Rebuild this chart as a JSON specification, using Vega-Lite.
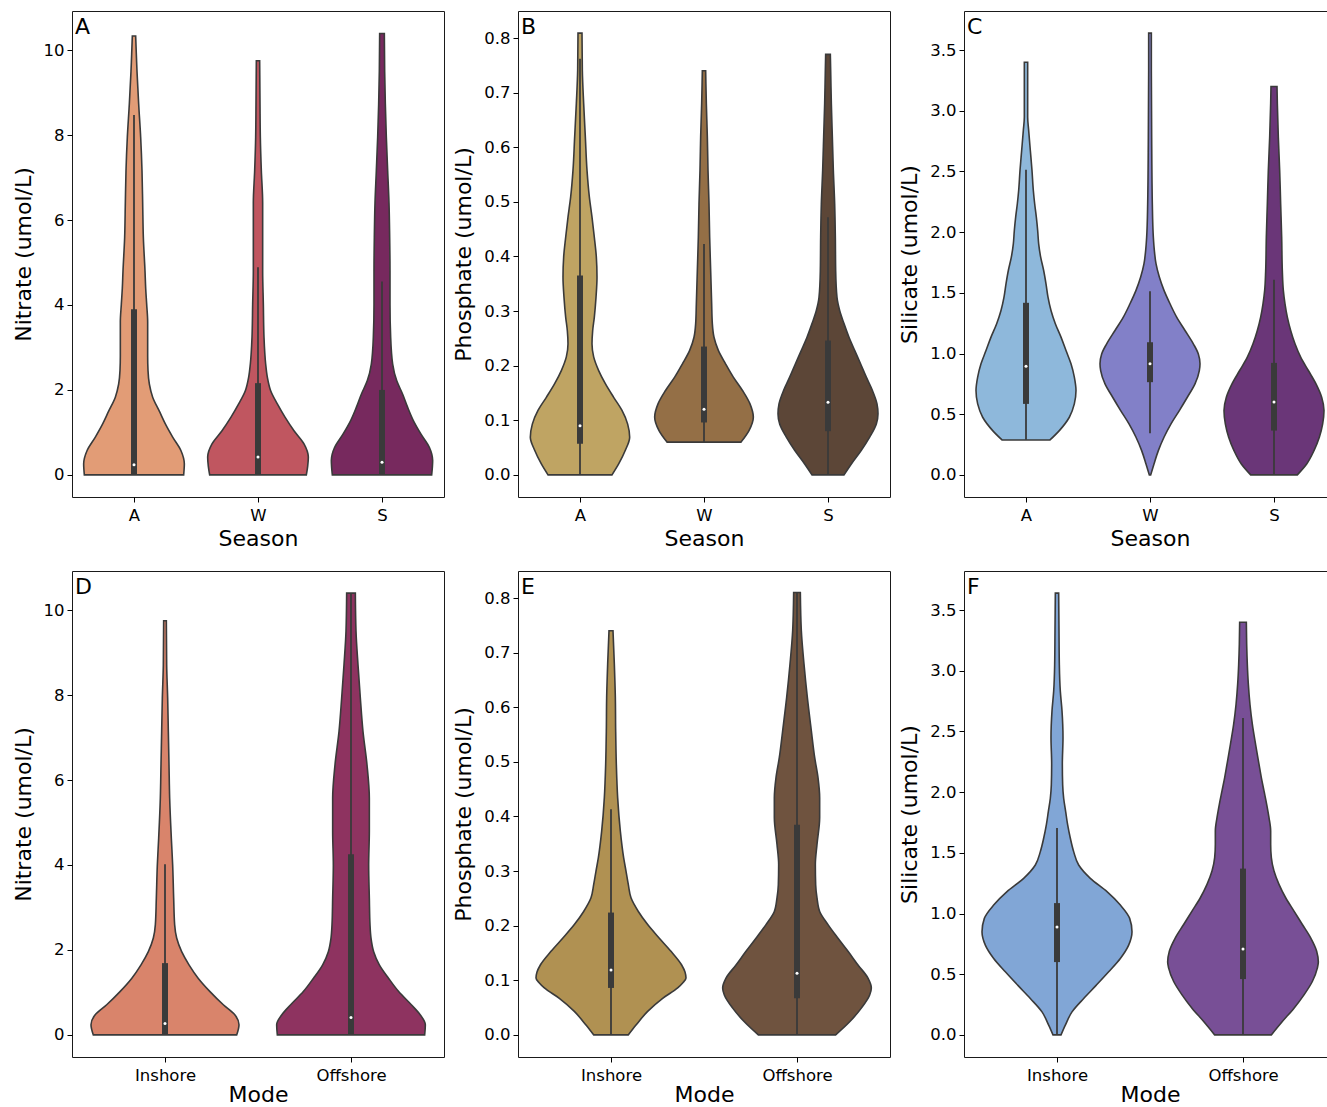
{
"$schema": "https://vega.github.io/schema/vega-lite/v6.json",
"background": "white",
"padding": {"left": 11, "top": 10, "right": -10, "bottom": 0},
"config": {
 "font": "DejaVu Sans",
 "view": {"stroke": "#1a1a1a", "strokeWidth": 1},
 "axis": {"grid": false, "domain": false, "labelFont": "DejaVu Sans", "labelFontSize": 16.5, "labelColor": "#000", "titleFont": "DejaVu Sans", "titleFontSize": 22, "titleFontWeight": "normal", "titleColor": "#000", "tickColor": "#000", "tickSize": 5, "tickWidth": 1, "labelPadding": 3},
 "axisX": {"labelAngle": 0, "labelPadding": 5, "titlePadding": 5},
 "axisY": {"titlePadding": 8},
 "title": {"anchor": "start", "frame": "group", "offset": -28, "dx": 3, "fontSize": 22, "fontWeight": "normal", "font": "DejaVu Sans", "color": "#000"}
},
"datasets": {
 "nitS": [
  {"c":"A","v":0,"w":149},{"c":"A","v":0.26,"w":151},{"c":"A","v":0.57,"w":141},{"c":"A","v":0.89,"w":116},{"c":"A","v":1.2,"w":94},{"c":"A","v":1.5,"w":76},{"c":"A","v":1.83,"w":56},{"c":"A","v":2.14,"w":46},{"c":"A","v":2.46,"w":42},{"c":"A","v":2.8,"w":41},{"c":"A","v":3.24,"w":41},{"c":"A","v":3.6,"w":41},{"c":"A","v":4.02,"w":38},{"c":"A","v":4.4,"w":35},{"c":"A","v":4.8,"w":33},{"c":"A","v":5.6,"w":28},{"c":"A","v":6.4,"w":26},{"c":"A","v":7.16,"w":24},{"c":"A","v":7.95,"w":20},{"c":"A","v":8.73,"w":14},{"c":"A","v":9.5,"w":9},{"c":"A","v":9.9,"w":7},{"c":"A","v":10.33,"w":5},
  {"c":"W","v":0,"w":145},{"c":"W","v":0.2,"w":149},{"c":"W","v":0.42,"w":151},{"c":"W","v":0.73,"w":138},{"c":"W","v":1.04,"w":108},{"c":"W","v":1.36,"w":81},{"c":"W","v":1.67,"w":58},{"c":"W","v":1.98,"w":38},{"c":"W","v":2.3,"w":28},{"c":"W","v":2.61,"w":23},{"c":"W","v":3.24,"w":18},{"c":"W","v":4.02,"w":16},{"c":"W","v":4.8,"w":14},{"c":"W","v":5.6,"w":14},{"c":"W","v":6.4,"w":14},{"c":"W","v":7.16,"w":10},{"c":"W","v":7.95,"w":7},{"c":"W","v":8.73,"w":6},{"c":"W","v":9.75,"w":5},
  {"c":"S","v":0,"w":149},{"c":"S","v":0.34,"w":152},{"c":"S","v":0.65,"w":142},{"c":"S","v":0.96,"w":117},{"c":"S","v":1.28,"w":94},{"c":"S","v":1.59,"w":77},{"c":"S","v":1.9,"w":62},{"c":"S","v":2.22,"w":44},{"c":"S","v":2.61,"w":32},{"c":"S","v":3.24,"w":26},{"c":"S","v":4.02,"w":24},{"c":"S","v":4.8,"w":24},{"c":"S","v":5.6,"w":23},{"c":"S","v":6.4,"w":21},{"c":"S","v":7.16,"w":17},{"c":"S","v":7.95,"w":13},{"c":"S","v":8.73,"w":10},{"c":"S","v":9.5,"w":8},{"c":"S","v":10.39,"w":7}
 ],
 "phoS": [
  {"c":"A","v":0,"w":96},{"c":"A","v":0.02,"w":116},{"c":"A","v":0.045,"w":136},{"c":"A","v":0.069,"w":149},{"c":"A","v":0.093,"w":143},{"c":"A","v":0.118,"w":126},{"c":"A","v":0.142,"w":101},{"c":"A","v":0.167,"w":76},{"c":"A","v":0.191,"w":56},{"c":"A","v":0.216,"w":41},{"c":"A","v":0.24,"w":36},{"c":"A","v":0.264,"w":38},{"c":"A","v":0.289,"w":43},{"c":"A","v":0.325,"w":48},{"c":"A","v":0.362,"w":51},{"c":"A","v":0.399,"w":49},{"c":"A","v":0.435,"w":43},{"c":"A","v":0.472,"w":36},{"c":"A","v":0.509,"w":28},{"c":"A","v":0.558,"w":21},{"c":"A","v":0.619,"w":16},{"c":"A","v":0.68,"w":11},{"c":"A","v":0.741,"w":7},{"c":"A","v":0.809,"w":6},
  {"c":"W","v":0.06,"w":111},{"c":"W","v":0.081,"w":135},{"c":"W","v":0.106,"w":148},{"c":"W","v":0.13,"w":138},{"c":"W","v":0.155,"w":115},{"c":"W","v":0.179,"w":88},{"c":"W","v":0.203,"w":65},{"c":"W","v":0.228,"w":43},{"c":"W","v":0.252,"w":30},{"c":"W","v":0.277,"w":25},{"c":"W","v":0.313,"w":23},{"c":"W","v":0.374,"w":20},{"c":"W","v":0.435,"w":17},{"c":"W","v":0.496,"w":15},{"c":"W","v":0.558,"w":12},{"c":"W","v":0.619,"w":10},{"c":"W","v":0.68,"w":7},{"c":"W","v":0.74,"w":5},
  {"c":"S","v":0,"w":48},{"c":"S","v":0.02,"w":70},{"c":"S","v":0.045,"w":100},{"c":"S","v":0.069,"w":125},{"c":"S","v":0.093,"w":145},{"c":"S","v":0.112,"w":150},{"c":"S","v":0.13,"w":147},{"c":"S","v":0.155,"w":133},{"c":"S","v":0.179,"w":115},{"c":"S","v":0.203,"w":98},{"c":"S","v":0.228,"w":80},{"c":"S","v":0.252,"w":63},{"c":"S","v":0.277,"w":48},{"c":"S","v":0.301,"w":35},{"c":"S","v":0.325,"w":27},{"c":"S","v":0.374,"w":23},{"c":"S","v":0.435,"w":22},{"c":"S","v":0.496,"w":20},{"c":"S","v":0.558,"w":16},{"c":"S","v":0.619,"w":13},{"c":"S","v":0.68,"w":10},{"c":"S","v":0.741,"w":8},{"c":"S","v":0.77,"w":7}
 ],
 "silS": [
  {"c":"A","v":0.288,"w":72},{"c":"A","v":0.365,"w":100},{"c":"A","v":0.475,"w":130},{"c":"A","v":0.585,"w":145},{"c":"A","v":0.695,"w":150},{"c":"A","v":0.805,"w":145},{"c":"A","v":0.915,"w":135},{"c":"A","v":1.025,"w":120},{"c":"A","v":1.135,"w":105},{"c":"A","v":1.245,"w":88},{"c":"A","v":1.354,"w":75},{"c":"A","v":1.464,"w":66},{"c":"A","v":1.574,"w":60},{"c":"A","v":1.684,"w":53},{"c":"A","v":1.794,"w":44},{"c":"A","v":1.904,"w":38},{"c":"A","v":2.014,"w":35},{"c":"A","v":2.124,"w":31},{"c":"A","v":2.234,"w":26},{"c":"A","v":2.343,"w":22},{"c":"A","v":2.508,"w":18},{"c":"A","v":2.673,"w":13},{"c":"A","v":2.838,"w":8},{"c":"A","v":2.948,"w":5},{"c":"A","v":3.058,"w":5},{"c":"A","v":3.4,"w":5},
  {"c":"W","v":0,"w":2},{"c":"W","v":0.09,"w":12},{"c":"W","v":0.2,"w":25},{"c":"W","v":0.31,"w":42},{"c":"W","v":0.42,"w":63},{"c":"W","v":0.53,"w":88},{"c":"W","v":0.64,"w":112},{"c":"W","v":0.75,"w":135},{"c":"W","v":0.86,"w":148},{"c":"W","v":0.915,"w":150},{"c":"W","v":0.997,"w":145},{"c":"W","v":1.08,"w":130},{"c":"W","v":1.19,"w":105},{"c":"W","v":1.3,"w":80},{"c":"W","v":1.41,"w":60},{"c":"W","v":1.52,"w":42},{"c":"W","v":1.63,"w":28},{"c":"W","v":1.74,"w":18},{"c":"W","v":1.85,"w":13},{"c":"W","v":1.96,"w":10},{"c":"W","v":2.23,"w":7},{"c":"W","v":2.78,"w":5},{"c":"W","v":3.33,"w":4},{"c":"W","v":3.64,"w":4},
  {"c":"S","v":0,"w":70},{"c":"S","v":0.09,"w":98},{"c":"S","v":0.2,"w":120},{"c":"S","v":0.31,"w":136},{"c":"S","v":0.42,"w":146},{"c":"S","v":0.53,"w":150},{"c":"S","v":0.64,"w":143},{"c":"S","v":0.75,"w":126},{"c":"S","v":0.86,"w":103},{"c":"S","v":0.97,"w":80},{"c":"S","v":1.08,"w":63},{"c":"S","v":1.19,"w":50},{"c":"S","v":1.3,"w":40},{"c":"S","v":1.41,"w":33},{"c":"S","v":1.52,"w":28},{"c":"S","v":1.68,"w":25},{"c":"S","v":1.96,"w":23},{"c":"S","v":2.23,"w":20},{"c":"S","v":2.51,"w":17},{"c":"S","v":2.78,"w":13},{"c":"S","v":3.06,"w":10},{"c":"S","v":3.2,"w":9}
 ],
 "nitM": [
  {"c":"Inshore","v":0,"w":215},{"c":"Inshore","v":0.24,"w":222},{"c":"Inshore","v":0.47,"w":210},{"c":"Inshore","v":0.71,"w":175},{"c":"Inshore","v":1.02,"w":135},{"c":"Inshore","v":1.33,"w":100},{"c":"Inshore","v":1.65,"w":72},{"c":"Inshore","v":1.96,"w":50},{"c":"Inshore","v":2.28,"w":35},{"c":"Inshore","v":2.59,"w":29},{"c":"Inshore","v":3.22,"w":26},{"c":"Inshore","v":4.0,"w":23},{"c":"Inshore","v":4.63,"w":19},{"c":"Inshore","v":5.57,"w":14},{"c":"Inshore","v":6.36,"w":12},{"c":"Inshore","v":7.14,"w":10},{"c":"Inshore","v":7.93,"w":8},{"c":"Inshore","v":8.71,"w":5},{"c":"Inshore","v":9.75,"w":4},
  {"c":"Offshore","v":0,"w":221},{"c":"Offshore","v":0.24,"w":223},{"c":"Offshore","v":0.47,"w":208},{"c":"Offshore","v":0.71,"w":181},{"c":"Offshore","v":1.02,"w":143},{"c":"Offshore","v":1.33,"w":113},{"c":"Offshore","v":1.65,"w":85},{"c":"Offshore","v":1.96,"w":68},{"c":"Offshore","v":2.28,"w":60},{"c":"Offshore","v":2.59,"w":57},{"c":"Offshore","v":3.22,"w":55},{"c":"Offshore","v":4.0,"w":53},{"c":"Offshore","v":4.79,"w":55},{"c":"Offshore","v":5.57,"w":55},{"c":"Offshore","v":6.36,"w":48},{"c":"Offshore","v":7.14,"w":36},{"c":"Offshore","v":7.93,"w":28},{"c":"Offshore","v":8.71,"w":21},{"c":"Offshore","v":9.5,"w":15},{"c":"Offshore","v":10.4,"w":13}
 ],
 "phoM": [
  {"c":"Inshore","v":0,"w":52},{"c":"Inshore","v":0.018,"w":75},{"c":"Inshore","v":0.043,"w":110},{"c":"Inshore","v":0.067,"w":155},{"c":"Inshore","v":0.086,"w":200},{"c":"Inshore","v":0.095,"w":215},{"c":"Inshore","v":0.104,"w":225},{"c":"Inshore","v":0.115,"w":222},{"c":"Inshore","v":0.128,"w":212},{"c":"Inshore","v":0.153,"w":180},{"c":"Inshore","v":0.177,"w":145},{"c":"Inshore","v":0.202,"w":110},{"c":"Inshore","v":0.226,"w":82},{"c":"Inshore","v":0.251,"w":60},{"c":"Inshore","v":0.275,"w":52},{"c":"Inshore","v":0.3,"w":45},{"c":"Inshore","v":0.324,"w":38},{"c":"Inshore","v":0.373,"w":28},{"c":"Inshore","v":0.434,"w":20},{"c":"Inshore","v":0.495,"w":16},{"c":"Inshore","v":0.557,"w":14},{"c":"Inshore","v":0.618,"w":13},{"c":"Inshore","v":0.679,"w":10},{"c":"Inshore","v":0.74,"w":6},
  {"c":"Offshore","v":0,"w":116},{"c":"Offshore","v":0.024,"w":158},{"c":"Offshore","v":0.049,"w":193},{"c":"Offshore","v":0.073,"w":218},{"c":"Offshore","v":0.086,"w":223},{"c":"Offshore","v":0.104,"w":213},{"c":"Offshore","v":0.128,"w":183},{"c":"Offshore","v":0.153,"w":153},{"c":"Offshore","v":0.177,"w":123},{"c":"Offshore","v":0.202,"w":93},{"c":"Offshore","v":0.226,"w":68},{"c":"Offshore","v":0.251,"w":60},{"c":"Offshore","v":0.275,"w":56},{"c":"Offshore","v":0.312,"w":55},{"c":"Offshore","v":0.349,"w":60},{"c":"Offshore","v":0.398,"w":68},{"c":"Offshore","v":0.434,"w":68},{"c":"Offshore","v":0.471,"w":63},{"c":"Offshore","v":0.508,"w":53},{"c":"Offshore","v":0.557,"w":43},{"c":"Offshore","v":0.618,"w":31},{"c":"Offshore","v":0.679,"w":21},{"c":"Offshore","v":0.74,"w":13},{"c":"Offshore","v":0.81,"w":10}
 ],
 "silM": [
  {"c":"Inshore","v":0,"w":12},{"c":"Inshore","v":0.08,"w":25},{"c":"Inshore","v":0.19,"w":45},{"c":"Inshore","v":0.3,"w":80},{"c":"Inshore","v":0.41,"w":118},{"c":"Inshore","v":0.52,"w":155},{"c":"Inshore","v":0.63,"w":190},{"c":"Inshore","v":0.74,"w":215},{"c":"Inshore","v":0.85,"w":225},{"c":"Inshore","v":0.96,"w":218},{"c":"Inshore","v":1.07,"w":190},{"c":"Inshore","v":1.18,"w":150},{"c":"Inshore","v":1.29,"w":100},{"c":"Inshore","v":1.4,"w":65},{"c":"Inshore","v":1.51,"w":50},{"c":"Inshore","v":1.62,"w":40},{"c":"Inshore","v":1.73,"w":32},{"c":"Inshore","v":1.84,"w":26},{"c":"Inshore","v":1.95,"w":20},{"c":"Inshore","v":2.06,"w":17},{"c":"Inshore","v":2.23,"w":16},{"c":"Inshore","v":2.45,"w":18},{"c":"Inshore","v":2.67,"w":15},{"c":"Inshore","v":2.83,"w":10},{"c":"Inshore","v":3.05,"w":7},{"c":"Inshore","v":3.33,"w":6},{"c":"Inshore","v":3.64,"w":5},
  {"c":"Offshore","v":0,"w":85},{"c":"Offshore","v":0.11,"w":118},{"c":"Offshore","v":0.22,"w":153},{"c":"Offshore","v":0.33,"w":183},{"c":"Offshore","v":0.44,"w":208},{"c":"Offshore","v":0.55,"w":223},{"c":"Offshore","v":0.6,"w":226},{"c":"Offshore","v":0.69,"w":221},{"c":"Offshore","v":0.8,"w":203},{"c":"Offshore","v":0.91,"w":178},{"c":"Offshore","v":1.02,"w":153},{"c":"Offshore","v":1.13,"w":128},{"c":"Offshore","v":1.24,"w":108},{"c":"Offshore","v":1.35,"w":93},{"c":"Offshore","v":1.46,"w":85},{"c":"Offshore","v":1.57,"w":83},{"c":"Offshore","v":1.68,"w":83},{"c":"Offshore","v":1.79,"w":78},{"c":"Offshore","v":1.9,"w":71},{"c":"Offshore","v":2.01,"w":63},{"c":"Offshore","v":2.12,"w":55},{"c":"Offshore","v":2.23,"w":48},{"c":"Offshore","v":2.39,"w":38},{"c":"Offshore","v":2.56,"w":28},{"c":"Offshore","v":2.72,"w":21},{"c":"Offshore","v":2.89,"w":16},{"c":"Offshore","v":3.05,"w":13},{"c":"Offshore","v":3.22,"w":11},{"c":"Offshore","v":3.4,"w":10}
 ],
 "box": [
  {"p":"A","c":"A","k":"wh","v":0},{"p":"A","c":"A","k":"wh","v":8.47},{"p":"A","c":"A","k":"iqr","v":0},{"p":"A","c":"A","k":"iqr","v":3.9},{"p":"A","c":"A","k":"med","v":0.24},
  {"p":"A","c":"W","k":"wh","v":0},{"p":"A","c":"W","k":"wh","v":4.89},{"p":"A","c":"W","k":"iqr","v":0},{"p":"A","c":"W","k":"iqr","v":2.16},{"p":"A","c":"W","k":"med","v":0.42},
  {"p":"A","c":"S","k":"wh","v":0},{"p":"A","c":"S","k":"wh","v":4.55},{"p":"A","c":"S","k":"iqr","v":0},{"p":"A","c":"S","k":"iqr","v":2.0},{"p":"A","c":"S","k":"med","v":0.3},
  {"p":"B","c":"A","k":"wh","v":0},{"p":"B","c":"A","k":"wh","v":0.762},{"p":"B","c":"A","k":"iqr","v":0.057},{"p":"B","c":"A","k":"iqr","v":0.365},{"p":"B","c":"A","k":"med","v":0.09},
  {"p":"B","c":"W","k":"wh","v":0.06},{"p":"B","c":"W","k":"wh","v":0.423},{"p":"B","c":"W","k":"iqr","v":0.096},{"p":"B","c":"W","k":"iqr","v":0.235},{"p":"B","c":"W","k":"med","v":0.12},
  {"p":"B","c":"S","k":"wh","v":0},{"p":"B","c":"S","k":"wh","v":0.472},{"p":"B","c":"S","k":"iqr","v":0.08},{"p":"B","c":"S","k":"iqr","v":0.246},{"p":"B","c":"S","k":"med","v":0.133},
  {"p":"C","c":"A","k":"wh","v":0.29},{"p":"C","c":"A","k":"wh","v":2.514},{"p":"C","c":"A","k":"iqr","v":0.585},{"p":"C","c":"A","k":"iqr","v":1.418},{"p":"C","c":"A","k":"med","v":0.896},
  {"p":"C","c":"W","k":"wh","v":0.343},{"p":"C","c":"W","k":"wh","v":1.514},{"p":"C","c":"W","k":"iqr","v":0.764},{"p":"C","c":"W","k":"iqr","v":1.093},{"p":"C","c":"W","k":"med","v":0.915},
  {"p":"C","c":"S","k":"wh","v":0},{"p":"C","c":"S","k":"wh","v":1.607},{"p":"C","c":"S","k":"iqr","v":0.365},{"p":"C","c":"S","k":"iqr","v":0.923},{"p":"C","c":"S","k":"med","v":0.6},
  {"p":"D","c":"Inshore","k":"wh","v":0},{"p":"D","c":"Inshore","k":"wh","v":4.02},{"p":"D","c":"Inshore","k":"iqr","v":0},{"p":"D","c":"Inshore","k":"iqr","v":1.69},{"p":"D","c":"Inshore","k":"med","v":0.27},
  {"p":"D","c":"Offshore","k":"wh","v":0},{"p":"D","c":"Offshore","k":"wh","v":10.4},{"p":"D","c":"Offshore","k":"iqr","v":0},{"p":"D","c":"Offshore","k":"iqr","v":4.25},{"p":"D","c":"Offshore","k":"med","v":0.41},
  {"p":"E","c":"Inshore","k":"wh","v":0},{"p":"E","c":"Inshore","k":"wh","v":0.413},{"p":"E","c":"Inshore","k":"iqr","v":0.086},{"p":"E","c":"Inshore","k":"iqr","v":0.224},{"p":"E","c":"Inshore","k":"med","v":0.119},
  {"p":"E","c":"Offshore","k":"wh","v":0},{"p":"E","c":"Offshore","k":"wh","v":0.81},{"p":"E","c":"Offshore","k":"iqr","v":0.067},{"p":"E","c":"Offshore","k":"iqr","v":0.385},{"p":"E","c":"Offshore","k":"med","v":0.113},
  {"p":"F","c":"Inshore","k":"wh","v":0},{"p":"F","c":"Inshore","k":"wh","v":1.705},{"p":"F","c":"Inshore","k":"iqr","v":0.6},{"p":"F","c":"Inshore","k":"iqr","v":1.086},{"p":"F","c":"Inshore","k":"med","v":0.888},
  {"p":"F","c":"Offshore","k":"wh","v":0},{"p":"F","c":"Offshore","k":"wh","v":2.61},{"p":"F","c":"Offshore","k":"iqr","v":0.46},{"p":"F","c":"Offshore","k":"iqr","v":1.37},{"p":"F","c":"Offshore","k":"med","v":0.707}
 ]
},
"columns": 3,
"spacing": {"row": 74, "column": 74},
"bounds": "flush",
"concat": [
 {"width": 372, "height": 486, "title": {"text": "A"},
  "encoding": {"y": {"field": "v", "type": "quantitative", "title": "Nitrate (umol/L)", "scale": {"domain": [-0.52, 10.92], "nice": false, "zero": false}, "axis": {"values": [0, 2, 4, 6, 8, 10], "format": "d"}}},
  "layer": [
   {"data": {"name": "nitS"}, "transform": [{"filter": "datum.c === 'A'"}], "mark": {"type": "area", "orient": "horizontal", "interpolate": "monotone", "fill": "#E29C76", "fillOpacity": 1, "stroke": "#3a3a3a", "strokeWidth": 1.6}, "encoding": {"x": {"field": "w", "type": "quantitative", "stack": "center", "scale": {"domain": [-17.5, 540.5], "nice": false, "zero": false}, "axis": null}}},
   {"data": {"name": "nitS"}, "transform": [{"filter": "datum.c === 'W'"}], "mark": {"type": "area", "orient": "horizontal", "interpolate": "monotone", "fill": "#C05660", "fillOpacity": 1, "stroke": "#3a3a3a", "strokeWidth": 1.6}, "encoding": {"x": {"field": "w", "type": "quantitative", "stack": "center", "scale": {"domain": [-203.5, 354.5], "nice": false, "zero": false}, "axis": null}}},
   {"data": {"name": "nitS"}, "transform": [{"filter": "datum.c === 'S'"}], "mark": {"type": "area", "orient": "horizontal", "interpolate": "monotone", "fill": "#77295E", "fillOpacity": 1, "stroke": "#3a3a3a", "strokeWidth": 1.6}, "encoding": {"x": {"field": "w", "type": "quantitative", "stack": "center", "scale": {"domain": [-389, 169], "nice": false, "zero": false}, "axis": null}}},
   {"data": {"name": "box"}, "transform": [{"filter": "datum.p === 'A' && datum.k === 'wh'"}], "mark": {"type": "line", "color": "#3a3a3a", "strokeWidth": 1.8}, "encoding": {"x": {"field": "c", "type": "nominal", "sort": ["A", "W", "S"], "scale": {"type": "point", "padding": 0.5}, "title": "Season"}, "detail": {"field": "c"}}},
   {"data": {"name": "box"}, "transform": [{"filter": "datum.p === 'A' && datum.k === 'iqr'"}], "mark": {"type": "line", "color": "#3a3a3a", "strokeWidth": 6, "strokeCap": "butt"}, "encoding": {"x": {"field": "c", "type": "nominal", "sort": ["A", "W", "S"], "scale": {"type": "point", "padding": 0.5}, "axis": null}, "detail": {"field": "c"}}},
   {"data": {"name": "box"}, "transform": [{"filter": "datum.p === 'A' && datum.k === 'med'"}], "mark": {"type": "point", "filled": true, "color": "white", "opacity": 1, "size": 9}, "encoding": {"x": {"field": "c", "type": "nominal", "sort": ["A", "W", "S"], "scale": {"type": "point", "padding": 0.5}, "axis": null}}}
  ],
  "resolve": {"scale": {"x": "independent"}}
 },
 {"width": 372, "height": 486, "title": {"text": "B"},
  "encoding": {"y": {"field": "v", "type": "quantitative", "title": "Phosphate (umol/L)", "scale": {"domain": [-0.0405, 0.8495], "nice": false, "zero": false}, "axis": {"values": [0, 0.1, 0.2, 0.3, 0.4, 0.5, 0.6, 0.7, 0.8], "format": ".1f"}}},
  "layer": [
   {"data": {"name": "phoS"}, "transform": [{"filter": "datum.c === 'A'"}], "mark": {"type": "area", "orient": "horizontal", "interpolate": "monotone", "fill": "#BFA463", "fillOpacity": 1, "stroke": "#3a3a3a", "strokeWidth": 1.6}, "encoding": {"x": {"field": "w", "type": "quantitative", "stack": "center", "scale": {"domain": [-18.5, 539.5], "nice": false, "zero": false}, "axis": null}}},
   {"data": {"name": "phoS"}, "transform": [{"filter": "datum.c === 'W'"}], "mark": {"type": "area", "orient": "horizontal", "interpolate": "monotone", "fill": "#946F46", "fillOpacity": 1, "stroke": "#3a3a3a", "strokeWidth": 1.6}, "encoding": {"x": {"field": "w", "type": "quantitative", "stack": "center", "scale": {"domain": [-205, 353], "nice": false, "zero": false}, "axis": null}}},
   {"data": {"name": "phoS"}, "transform": [{"filter": "datum.c === 'S'"}], "mark": {"type": "area", "orient": "horizontal", "interpolate": "monotone", "fill": "#5C4637", "fillOpacity": 1, "stroke": "#3a3a3a", "strokeWidth": 1.6}, "encoding": {"x": {"field": "w", "type": "quantitative", "stack": "center", "scale": {"domain": [-390, 168], "nice": false, "zero": false}, "axis": null}}},
   {"data": {"name": "box"}, "transform": [{"filter": "datum.p === 'B' && datum.k === 'wh'"}], "mark": {"type": "line", "color": "#3a3a3a", "strokeWidth": 1.8}, "encoding": {"x": {"field": "c", "type": "nominal", "sort": ["A", "W", "S"], "scale": {"type": "point", "padding": 0.5}, "title": "Season"}, "detail": {"field": "c"}}},
   {"data": {"name": "box"}, "transform": [{"filter": "datum.p === 'B' && datum.k === 'iqr'"}], "mark": {"type": "line", "color": "#3a3a3a", "strokeWidth": 6, "strokeCap": "butt"}, "encoding": {"x": {"field": "c", "type": "nominal", "sort": ["A", "W", "S"], "scale": {"type": "point", "padding": 0.5}, "axis": null}, "detail": {"field": "c"}}},
   {"data": {"name": "box"}, "transform": [{"filter": "datum.p === 'B' && datum.k === 'med'"}], "mark": {"type": "point", "filled": true, "color": "white", "opacity": 1, "size": 9}, "encoding": {"x": {"field": "c", "type": "nominal", "sort": ["A", "W", "S"], "scale": {"type": "point", "padding": 0.5}, "axis": null}}}
  ],
  "resolve": {"scale": {"x": "independent"}}
 },
 {"width": 372, "height": 486, "title": {"text": "C"},
  "encoding": {"y": {"field": "v", "type": "quantitative", "title": "Silicate (umol/L)", "scale": {"domain": [-0.182, 3.822], "nice": false, "zero": false}, "axis": {"values": [0, 0.5, 1, 1.5, 2, 2.5, 3, 3.5], "format": ".1f"}}},
  "layer": [
   {"data": {"name": "silS"}, "transform": [{"filter": "datum.c === 'A'"}], "mark": {"type": "area", "orient": "horizontal", "interpolate": "monotone", "fill": "#8EB8DB", "fillOpacity": 1, "stroke": "#3a3a3a", "strokeWidth": 1.6}, "encoding": {"x": {"field": "w", "type": "quantitative", "stack": "center", "scale": {"domain": [-18, 540], "nice": false, "zero": false}, "axis": null}}},
   {"data": {"name": "silS"}, "transform": [{"filter": "datum.c === 'W'"}], "mark": {"type": "area", "orient": "horizontal", "interpolate": "monotone", "fill": "#8280C8", "fillOpacity": 1, "stroke": "#3a3a3a", "strokeWidth": 1.6}, "encoding": {"x": {"field": "w", "type": "quantitative", "stack": "center", "scale": {"domain": [-204, 354], "nice": false, "zero": false}, "axis": null}}},
   {"data": {"name": "silS"}, "transform": [{"filter": "datum.c === 'S'"}], "mark": {"type": "area", "orient": "horizontal", "interpolate": "monotone", "fill": "#6A3678", "fillOpacity": 1, "stroke": "#3a3a3a", "strokeWidth": 1.6}, "encoding": {"x": {"field": "w", "type": "quantitative", "stack": "center", "scale": {"domain": [-390, 168], "nice": false, "zero": false}, "axis": null}}},
   {"data": {"name": "box"}, "transform": [{"filter": "datum.p === 'C' && datum.k === 'wh'"}], "mark": {"type": "line", "color": "#3a3a3a", "strokeWidth": 1.8}, "encoding": {"x": {"field": "c", "type": "nominal", "sort": ["A", "W", "S"], "scale": {"type": "point", "padding": 0.5}, "title": "Season"}, "detail": {"field": "c"}}},
   {"data": {"name": "box"}, "transform": [{"filter": "datum.p === 'C' && datum.k === 'iqr'"}], "mark": {"type": "line", "color": "#3a3a3a", "strokeWidth": 6, "strokeCap": "butt"}, "encoding": {"x": {"field": "c", "type": "nominal", "sort": ["A", "W", "S"], "scale": {"type": "point", "padding": 0.5}, "axis": null}, "detail": {"field": "c"}}},
   {"data": {"name": "box"}, "transform": [{"filter": "datum.p === 'C' && datum.k === 'med'"}], "mark": {"type": "point", "filled": true, "color": "white", "opacity": 1, "size": 9}, "encoding": {"x": {"field": "c", "type": "nominal", "sort": ["A", "W", "S"], "scale": {"type": "point", "padding": 0.5}, "axis": null}}}
  ],
  "resolve": {"scale": {"x": "independent"}}
 },
 {"width": 372, "height": 486, "title": {"text": "D"},
  "encoding": {"y": {"field": "v", "type": "quantitative", "title": "Nitrate (umol/L)", "scale": {"domain": [-0.52, 10.92], "nice": false, "zero": false}, "axis": {"values": [0, 2, 4, 6, 8, 10], "format": "d"}}},
  "layer": [
   {"data": {"name": "nitM"}, "transform": [{"filter": "datum.c === 'Inshore'"}], "mark": {"type": "area", "orient": "horizontal", "interpolate": "monotone", "fill": "#D9846B", "fillOpacity": 1, "stroke": "#3a3a3a", "strokeWidth": 1.6}, "encoding": {"x": {"field": "w", "type": "quantitative", "stack": "center", "scale": {"domain": [-28.5, 529.5], "nice": false, "zero": false}, "axis": null}}},
   {"data": {"name": "nitM"}, "transform": [{"filter": "datum.c === 'Offshore'"}], "mark": {"type": "area", "orient": "horizontal", "interpolate": "monotone", "fill": "#8E3360", "fillOpacity": 1, "stroke": "#3a3a3a", "strokeWidth": 1.6}, "encoding": {"x": {"field": "w", "type": "quantitative", "stack": "center", "scale": {"domain": [-307, 251], "nice": false, "zero": false}, "axis": null}}},
   {"data": {"name": "box"}, "transform": [{"filter": "datum.p === 'D' && datum.k === 'wh'"}], "mark": {"type": "line", "color": "#3a3a3a", "strokeWidth": 1.8}, "encoding": {"x": {"field": "c", "type": "nominal", "sort": ["Inshore", "Offshore"], "scale": {"type": "point", "padding": 0.5}, "title": "Mode", "axis": {"titlePadding": 1}}, "detail": {"field": "c"}}},
   {"data": {"name": "box"}, "transform": [{"filter": "datum.p === 'D' && datum.k === 'iqr'"}], "mark": {"type": "line", "color": "#3a3a3a", "strokeWidth": 6, "strokeCap": "butt"}, "encoding": {"x": {"field": "c", "type": "nominal", "sort": ["Inshore", "Offshore"], "scale": {"type": "point", "padding": 0.5}, "axis": null}, "detail": {"field": "c"}}},
   {"data": {"name": "box"}, "transform": [{"filter": "datum.p === 'D' && datum.k === 'med'"}], "mark": {"type": "point", "filled": true, "color": "white", "opacity": 1, "size": 9}, "encoding": {"x": {"field": "c", "type": "nominal", "sort": ["Inshore", "Offshore"], "scale": {"type": "point", "padding": 0.5}, "axis": null}}}
  ],
  "resolve": {"scale": {"x": "independent"}}
 },
 {"width": 372, "height": 486, "title": {"text": "E"},
  "encoding": {"y": {"field": "v", "type": "quantitative", "title": "Phosphate (umol/L)", "scale": {"domain": [-0.0405, 0.8495], "nice": false, "zero": false}, "axis": {"values": [0, 0.1, 0.2, 0.3, 0.4, 0.5, 0.6, 0.7, 0.8], "format": ".1f"}}},
  "layer": [
   {"data": {"name": "phoM"}, "transform": [{"filter": "datum.c === 'Inshore'"}], "mark": {"type": "area", "orient": "horizontal", "interpolate": "monotone", "fill": "#B09152", "fillOpacity": 1, "stroke": "#3a3a3a", "strokeWidth": 1.6}, "encoding": {"x": {"field": "w", "type": "quantitative", "stack": "center", "scale": {"domain": [-27, 531], "nice": false, "zero": false}, "axis": null}}},
   {"data": {"name": "phoM"}, "transform": [{"filter": "datum.c === 'Offshore'"}], "mark": {"type": "area", "orient": "horizontal", "interpolate": "monotone", "fill": "#6F533F", "fillOpacity": 1, "stroke": "#3a3a3a", "strokeWidth": 1.6}, "encoding": {"x": {"field": "w", "type": "quantitative", "stack": "center", "scale": {"domain": [-307, 251], "nice": false, "zero": false}, "axis": null}}},
   {"data": {"name": "box"}, "transform": [{"filter": "datum.p === 'E' && datum.k === 'wh'"}], "mark": {"type": "line", "color": "#3a3a3a", "strokeWidth": 1.8}, "encoding": {"x": {"field": "c", "type": "nominal", "sort": ["Inshore", "Offshore"], "scale": {"type": "point", "padding": 0.5}, "title": "Mode", "axis": {"titlePadding": 1}}, "detail": {"field": "c"}}},
   {"data": {"name": "box"}, "transform": [{"filter": "datum.p === 'E' && datum.k === 'iqr'"}], "mark": {"type": "line", "color": "#3a3a3a", "strokeWidth": 6, "strokeCap": "butt"}, "encoding": {"x": {"field": "c", "type": "nominal", "sort": ["Inshore", "Offshore"], "scale": {"type": "point", "padding": 0.5}, "axis": null}, "detail": {"field": "c"}}},
   {"data": {"name": "box"}, "transform": [{"filter": "datum.p === 'E' && datum.k === 'med'"}], "mark": {"type": "point", "filled": true, "color": "white", "opacity": 1, "size": 9}, "encoding": {"x": {"field": "c", "type": "nominal", "sort": ["Inshore", "Offshore"], "scale": {"type": "point", "padding": 0.5}, "axis": null}}}
  ],
  "resolve": {"scale": {"x": "independent"}}
 },
 {"width": 372, "height": 486, "title": {"text": "F"},
  "encoding": {"y": {"field": "v", "type": "quantitative", "title": "Silicate (umol/L)", "scale": {"domain": [-0.182, 3.822], "nice": false, "zero": false}, "axis": {"values": [0, 0.5, 1, 1.5, 2, 2.5, 3, 3.5], "format": ".1f"}}},
  "layer": [
   {"data": {"name": "silM"}, "transform": [{"filter": "datum.c === 'Inshore'"}], "mark": {"type": "area", "orient": "horizontal", "interpolate": "monotone", "fill": "#81A6D6", "fillOpacity": 1, "stroke": "#3a3a3a", "strokeWidth": 1.6}, "encoding": {"x": {"field": "w", "type": "quantitative", "stack": "center", "scale": {"domain": [-27, 531], "nice": false, "zero": false}, "axis": null}}},
   {"data": {"name": "silM"}, "transform": [{"filter": "datum.c === 'Offshore'"}], "mark": {"type": "area", "orient": "horizontal", "interpolate": "monotone", "fill": "#784F96", "fillOpacity": 1, "stroke": "#3a3a3a", "strokeWidth": 1.6}, "encoding": {"x": {"field": "w", "type": "quantitative", "stack": "center", "scale": {"domain": [-305.5, 252.5], "nice": false, "zero": false}, "axis": null}}},
   {"data": {"name": "box"}, "transform": [{"filter": "datum.p === 'F' && datum.k === 'wh'"}], "mark": {"type": "line", "color": "#3a3a3a", "strokeWidth": 1.8}, "encoding": {"x": {"field": "c", "type": "nominal", "sort": ["Inshore", "Offshore"], "scale": {"type": "point", "padding": 0.5}, "title": "Mode", "axis": {"titlePadding": 1}}, "detail": {"field": "c"}}},
   {"data": {"name": "box"}, "transform": [{"filter": "datum.p === 'F' && datum.k === 'iqr'"}], "mark": {"type": "line", "color": "#3a3a3a", "strokeWidth": 6, "strokeCap": "butt"}, "encoding": {"x": {"field": "c", "type": "nominal", "sort": ["Inshore", "Offshore"], "scale": {"type": "point", "padding": 0.5}, "axis": null}, "detail": {"field": "c"}}},
   {"data": {"name": "box"}, "transform": [{"filter": "datum.p === 'F' && datum.k === 'med'"}], "mark": {"type": "point", "filled": true, "color": "white", "opacity": 1, "size": 9}, "encoding": {"x": {"field": "c", "type": "nominal", "sort": ["Inshore", "Offshore"], "scale": {"type": "point", "padding": 0.5}, "axis": null}}}
  ],
  "resolve": {"scale": {"x": "independent"}}
 }
]
}
